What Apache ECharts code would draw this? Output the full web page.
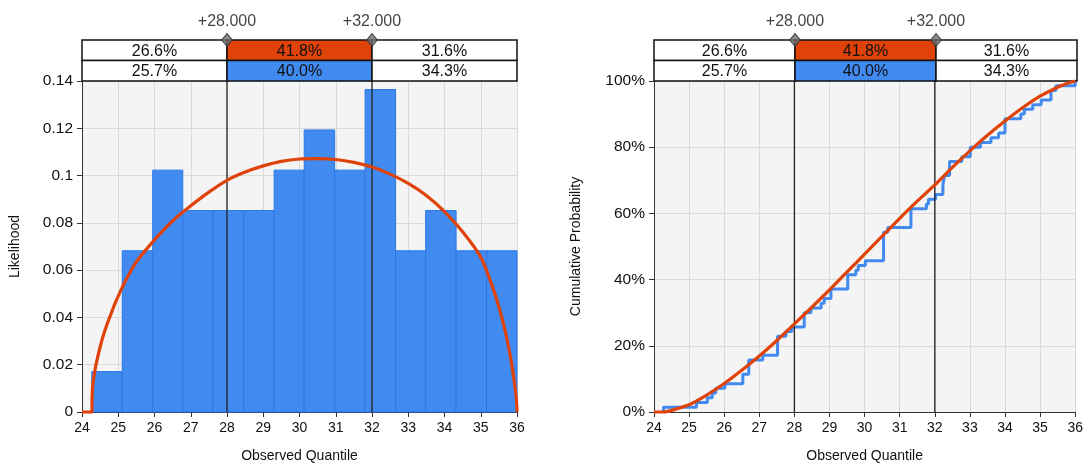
<!DOCTYPE html>
<html><head><meta charset="utf-8">
<script src="https://cdn.jsdelivr.net/npm/echarts@6/dist/echarts.min.js"></script>
<style>html,body{margin:0;padding:0;background:#fff}#c{width:1086px;height:468px}</style>
</head><body><div id="c"></div>
<script>
// ---- data ----
const cutPoints = [28, 32];
const headerBounds = [24, 28, 32, 36];
const fitPct = ['26.6%', '41.8%', '31.6%'];
const empPct = ['25.7%', '40.0%', '34.3%'];

const binEdges = [24.27, 25.11, 25.95, 26.78, 27.62, 28.46, 29.30, 30.13, 30.97, 31.81, 32.65, 33.48, 34.32, 35.16, 36.00];
const binDensity = [0.0171, 0.0682, 0.1023, 0.0852, 0.0852, 0.0852, 0.1023, 0.1193, 0.1023, 0.1364, 0.0682, 0.0852, 0.0682, 0.0682];

const pdfX = [24, 24.27, 24.28, 24.3, 24.35, 24.4, 24.5, 24.6, 24.7, 24.8, 24.9, 25, 25.2, 25.5, 26, 26.5, 27, 27.5, 28, 28.5, 29, 29.5, 30, 30.5, 31, 31.5, 32, 32.5, 33, 33.5, 34, 34.5, 35, 35.3, 35.5, 35.7, 35.85, 35.95, 35.99, 36];
const pdfY = [0, 0, 0.007, 0.012, 0.017, 0.021, 0.0275, 0.033, 0.0375, 0.0415, 0.0455, 0.049, 0.0555, 0.0635, 0.0728, 0.0808, 0.0872, 0.0930, 0.0980, 0.1015, 0.1041, 0.1060, 0.1070, 0.1072, 0.1068, 0.1056, 0.1036, 0.1006, 0.0967, 0.0916, 0.0848, 0.0762, 0.0655, 0.0540, 0.0445, 0.0325, 0.0205, 0.010, 0.004, 0];

const cdfX = [24, 24.27, 24.35, 24.5, 25, 25.5, 26, 26.5, 27, 27.5, 28, 28.5, 29, 29.5, 30, 30.5, 31, 31.5, 32, 32.5, 33, 33.5, 34, 34.5, 35, 35.5, 35.8, 36];
const cdfY = [0, 0, 0.1, 0.5, 2.2, 5.1, 8.6, 12.6, 16.9, 21.6, 26.6, 31.7, 36.9, 42.3, 47.7, 53.1, 58.5, 63.7, 68.6, 73.9, 78.9, 83.6, 87.9, 91.9, 95.4, 98.1, 99.4, 100];

const obsValues = [24.27,
  25.21, 25.52, 25.66, 25.76,
  26.02, 26.53, 26.53, 26.70, 26.70, 26.70,
  27.10, 27.52, 27.52, 27.52, 27.52,
  27.76, 27.93, 28.28, 28.28, 28.28,
  28.47, 28.76, 28.85, 29.04, 29.04,
  29.52, 29.52, 29.52, 29.75, 29.82, 30.02,
  30.54, 30.54, 30.54, 30.54, 30.54, 30.54, 30.66,
  31.32, 31.32, 31.32, 31.32, 31.76, 31.82,
  32.02, 32.23, 32.23, 32.28, 32.28, 32.42, 32.42, 32.42,
  32.77, 33.01, 33.01, 33.30,
  33.60, 33.82, 34.00, 34.00, 34.00,
  34.45, 34.55, 34.79, 35.03,
  35.31, 35.31, 35.45, 36.00];

// ---- styling ----
const RED = '#e0430a', BLUE = '#418af0', FONT = '"Liberation Sans", Arial, sans-serif';

// derived data
const histData = binDensity.map((d, i) => [binEdges[i], binEdges[i + 1], d]);
const pdfData = pdfX.map((x, i) => [x, pdfY[i]]);
const cdfData = cdfX.map((x, i) => [x, cdfY[i]]);
const ecdfData = (() => {
  const s = obsValues.slice().sort((a, b) => a - b);
  const n = s.length, out = [];
  let prev = 0;
  const uniq = [...new Set(s)];
  uniq.forEach(v => {
    const c = s.filter(t => t <= v).length;
    out.push([v, prev / n * 100], [v, c / n * 100]);
    prev = c;
  });
  return out;
})();
const headerData = [];
[[1, fitPct, RED], [0, empPct, BLUE]].forEach(([row, labels, col]) => {
  labels.forEach((lab, k) => headerData.push([headerBounds[k], headerBounds[k + 1], row, lab, k === 1 ? col : '#ffffff']));
});
const diamondData = cutPoints.map(v => [v, 2]);

function histItem(params, api) {
  const p0 = api.coord([api.value(0), api.value(2)]);
  const p1 = api.coord([api.value(1), 0]);
  return { type: 'rect', shape: { x: p0[0], y: p0[1], width: p1[0] - p0[0], height: p1[1] - p0[1] },
    style: { fill: BLUE, stroke: '#2a78e6', lineWidth: 1 } };
}
function vlineItem(ymax) {
  return function (params, api) {
    const a = api.coord([api.value(0), ymax]);
    const b = api.coord([api.value(0), 0]);
    return { type: 'line', shape: { x1: a[0], y1: a[1], x2: b[0], y2: b[1] }, style: { stroke: '#222', lineWidth: 1.3 } };
  };
}
function headerItem(params, api) {
  const d = headerData[params.dataIndex];
  const p0 = api.coord([d[0], d[2] + 1]);
  const p1 = api.coord([d[1], d[2]]);
  return { type: 'group', children: [
    { type: 'rect', shape: { x: p0[0], y: p0[1], width: p1[0] - p0[0], height: p1[1] - p0[1] },
      style: { fill: d[4], stroke: '#111', lineWidth: 1.5 } },
    { type: 'text', x: (p0[0] + p1[0]) / 2, y: (p0[1] + p1[1]) / 2 + 1,
      style: { text: d[3], fill: '#111', font: '16px ' + FONT, align: 'center', verticalAlign: 'middle' } }
  ] };
}

function mainX(gi) {
  return { gridIndex: gi, type: 'value', min: 24, max: 36, interval: 1,
    axisLine: { show: true, lineStyle: { color: '#333', width: 1 } },
    axisTick: { show: true, length: 5, lineStyle: { color: '#333' } },
    axisLabel: { fontSize: 14, color: '#111', fontFamily: FONT, margin: 9 },
    splitLine: { show: true, lineStyle: { color: '#dadada', width: 1 } },
    name: 'Observed Quantile', nameLocation: 'middle', nameGap: 37,
    nameTextStyle: { fontSize: 14, color: '#111', fontFamily: FONT } };
}
function headX(gi) { return { gridIndex: gi, type: 'value', min: 24, max: 36, show: false }; }
function headY(gi) { return { gridIndex: gi, type: 'value', min: 0, max: 2, show: false }; }

const option = {
  animation: false,
  backgroundColor: '#ffffff',
  grid: [
    { left: 82, top: 81, width: 435, height: 335, show: true, backgroundColor: '#f4f4f4', borderWidth: 0 },
    { left: 82, top: 40, width: 435, height: 41 },
    { left: 654, top: 81, width: 423, height: 335, show: true, backgroundColor: '#f4f4f4', borderWidth: 0 },
    { left: 654, top: 40, width: 423, height: 41 }
  ],
  xAxis: [mainX(0), headX(1), mainX(2), headX(3)],
  yAxis: [
    { gridIndex: 0, type: 'value', min: 0, max: 0.14, interval: 0.02,
      axisLine: { show: true, lineStyle: { color: '#333' } },
      axisTick: { show: true, length: 5, lineStyle: { color: '#333' } },
      axisLabel: { fontSize: 15.5, color: '#111', fontFamily: FONT, margin: 9 },
      splitLine: { show: true, lineStyle: { color: '#dadada' } },
      name: 'Likelihood', nameLocation: 'middle', nameGap: 60,
      nameTextStyle: { fontSize: 14, color: '#111', fontFamily: FONT } },
    headY(1),
    { gridIndex: 2, type: 'value', min: 0, max: 100, interval: 20,
      axisLine: { show: true, lineStyle: { color: '#333' } },
      axisTick: { show: true, length: 5, lineStyle: { color: '#333' } },
      axisLabel: { fontSize: 15.5, color: '#111', fontFamily: FONT, margin: 9, formatter: '{value}%' },
      splitLine: { show: true, lineStyle: { color: '#dadada' } },
      name: 'Cumulative Probability', nameLocation: 'middle', nameGap: 71,
      nameTextStyle: { fontSize: 14, color: '#111', fontFamily: FONT } },
    headY(3)
  ],
  series: [
    { type: 'custom', xAxisIndex: 0, yAxisIndex: 0, renderItem: histItem, data: histData, encode: { x: [0, 1], y: 2 }, z: 2, silent: true },
    { type: 'custom', xAxisIndex: 0, yAxisIndex: 0, renderItem: vlineItem(0.14), data: cutPoints.map(v => [v]), encode: { x: 0 }, z: 3, silent: true },
    { type: 'line', xAxisIndex: 0, yAxisIndex: 0, data: pdfData, showSymbol: false, clip: false, smooth: 0.3,
      lineStyle: { color: RED, width: 3.2 }, itemStyle: { color: RED }, z: 5, silent: true },
    { type: 'custom', xAxisIndex: 1, yAxisIndex: 1, renderItem: headerItem, data: headerData.map(d => [d[0], d[1], d[2]]), encode: { x: [0, 1], y: 2 }, z: 4, silent: true },
    { type: 'scatter', xAxisIndex: 1, yAxisIndex: 1, data: diamondData, symbol: 'diamond', symbolSize: [11, 13], clip: false,
      itemStyle: { color: '#6b6b6b', borderColor: '#333', borderWidth: 1 }, z: 6, silent: true,
      label: { show: true, position: 'top', distance: 3, formatter: p => '+' + p.value[0].toFixed(3), fontSize: 16, color: '#111', fontFamily: FONT } },

    { type: 'line', xAxisIndex: 2, yAxisIndex: 2, data: ecdfData, showSymbol: false, clip: false,
      lineStyle: { color: BLUE, width: 3 }, itemStyle: { color: BLUE }, z: 2, silent: true },
    { type: 'custom', xAxisIndex: 2, yAxisIndex: 2, renderItem: vlineItem(100), data: cutPoints.map(v => [v]), encode: { x: 0 }, z: 3, silent: true },
    { type: 'line', xAxisIndex: 2, yAxisIndex: 2, data: cdfData, showSymbol: false, clip: false, smooth: 0.2,
      lineStyle: { color: RED, width: 3.2 }, itemStyle: { color: RED }, z: 5, silent: true },
    { type: 'custom', xAxisIndex: 3, yAxisIndex: 3, renderItem: headerItem, data: headerData.map(d => [d[0], d[1], d[2]]), encode: { x: [0, 1], y: 2 }, z: 4, silent: true },
    { type: 'scatter', xAxisIndex: 3, yAxisIndex: 3, data: diamondData, symbol: 'diamond', symbolSize: [11, 13], clip: false,
      itemStyle: { color: '#6b6b6b', borderColor: '#333', borderWidth: 1 }, z: 6, silent: true,
      label: { show: true, position: 'top', distance: 3, formatter: p => '+' + p.value[0].toFixed(3), fontSize: 16, color: '#111', fontFamily: FONT } }
  ]
};
const chart = echarts.init(document.getElementById('c'), null, { renderer: 'canvas' });
chart.setOption(option);
</script>
</body></html>
